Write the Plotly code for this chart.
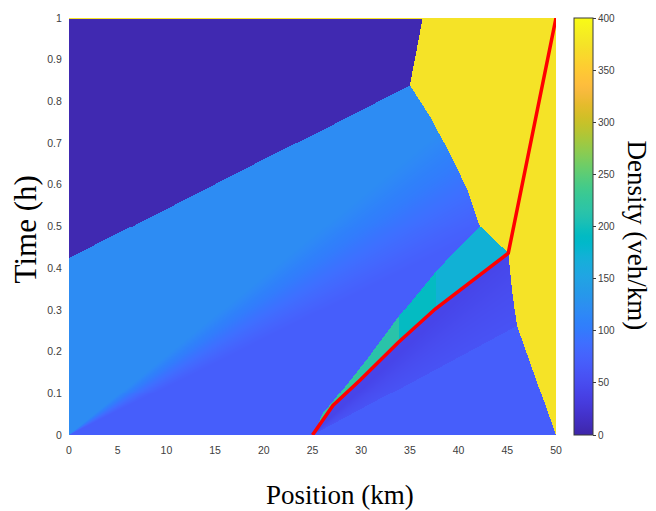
import numpy as np
import plotly.graph_objects as go

# ---------------- data ----------------
x_ticks = [0, 5, 10, 15, 20, 25, 30, 35, 40, 45, 50]
y_ticks = [0, 0.1, 0.2, 0.3, 0.4, 0.5, 0.6, 0.7, 0.8, 0.9, 1.0]
y_ticktext = ["0", "0.1", "0.2", "0.3", "0.4", "0.5", "0.6", "0.7", "0.8", "0.9", "1"]
cbar_ticks = [0, 50, 100, 150, 200, 250, 300, 350, 400]

# vehicle trajectory (red line)
traj_x = [25.0, 27.1, 29.9, 33.8, 37.6, 45.1, 50.0]
traj_t = [0.0, 0.071, 0.132, 0.222, 0.302, 0.436, 1.0]

# region densities (veh/km)
rho_A = 5        # free-flow upstream, top-left
rho_B = 120      # upper part of fan from origin
rho_C = 70       # lower part / initial condition
rho_D = 375      # jam
rho_F_low = 58   # fan below trajectory, lower edge
rho_F_high = 42  # fan below trajectory, near trajectory
rho_E = [224, 214, 192, 172]      # teal band segments
E_split_x = [29.9, 33.9, 37.7]    # segment boundaries (km)

# fan slopes (h/km) from origin: t/x where C turns into B
fanBC_s = [0.0115, 0.019]
# fan slopes from (25,0): t/(x-25)
fanF_s = [0.0124, 0.022]

# region boundaries (km, h)
A_x = [0.0, 35.0, 36.3, 0.0]
A_t = [0.424, 0.838, 1.0, 1.0]
D_x = [36.3, 50.0, 50.0, 46.0, 45.5, 45.1, 42.2, 40.9, 39.1, 37.1, 35.0]
D_t = [1.0, 1.0, 0.0, 0.261, 0.344, 0.436, 0.500, 0.588, 0.675, 0.763, 0.838]
E_x = [25.4, 26.0, 27.1, 30.6, 34.0, 37.9, 42.2, 45.1, 37.6, 33.8, 29.9, 27.1]
E_t = [0.014, 0.050, 0.080, 0.182, 0.288, 0.398, 0.500, 0.436, 0.302, 0.222, 0.132, 0.071]
F_x = [25.0, 27.1, 29.9, 33.8, 37.6, 45.1, 45.5, 46.0]
F_t = [0.0, 0.071, 0.132, 0.222, 0.302, 0.436, 0.344, 0.261]

# ---------------- colour map (parula) ----------------
parula = [
    (0.2422, 0.1504, 0.6603), (0.2504, 0.1650, 0.7076), (0.2578, 0.1818, 0.7511),
    (0.2647, 0.1978, 0.7952), (0.2706, 0.2147, 0.8364), (0.2751, 0.2342, 0.8710),
    (0.2783, 0.2559, 0.8991), (0.2803, 0.2782, 0.9221), (0.2813, 0.3006, 0.9414),
    (0.2810, 0.3228, 0.9579), (0.2795, 0.3447, 0.9717), (0.2760, 0.3667, 0.9829),
    (0.2699, 0.3892, 0.9906), (0.2602, 0.4123, 0.9952), (0.2440, 0.4358, 0.9988),
    (0.2206, 0.4603, 0.9973), (0.1963, 0.4847, 0.9892), (0.1834, 0.5074, 0.9798),
    (0.1786, 0.5289, 0.9682), (0.1764, 0.5499, 0.9520), (0.1687, 0.5703, 0.9359),
    (0.1540, 0.5902, 0.9218), (0.1460, 0.6091, 0.9079), (0.1380, 0.6276, 0.8973),
    (0.1248, 0.6459, 0.8883), (0.1113, 0.6630, 0.8763), (0.0952, 0.6798, 0.8598),
    (0.0689, 0.6948, 0.8394), (0.0297, 0.7082, 0.8163), (0.0036, 0.7203, 0.7917),
    (0.0067, 0.7312, 0.7660), (0.0433, 0.7411, 0.7394), (0.0964, 0.7500, 0.7120),
    (0.1408, 0.7584, 0.6842), (0.1717, 0.7670, 0.6554), (0.1938, 0.7758, 0.6251),
    (0.2161, 0.7843, 0.5923), (0.2470, 0.7918, 0.5567), (0.2906, 0.7973, 0.5188),
    (0.3406, 0.8008, 0.4789), (0.3909, 0.8029, 0.4354), (0.4456, 0.8024, 0.3909),
    (0.5044, 0.7993, 0.3480), (0.5616, 0.7942, 0.3045), (0.6174, 0.7876, 0.2612),
    (0.6720, 0.7793, 0.2227), (0.7242, 0.7698, 0.1910), (0.7738, 0.7598, 0.1646),
    (0.8203, 0.7498, 0.1535), (0.8634, 0.7406, 0.1596), (0.9035, 0.7330, 0.1774),
    (0.9393, 0.7288, 0.2100), (0.9728, 0.7298, 0.2394), (0.9956, 0.7434, 0.2371),
    (0.9970, 0.7659, 0.2199), (0.9952, 0.7893, 0.2028), (0.9892, 0.8136, 0.1885),
    (0.9786, 0.8386, 0.1766), (0.9676, 0.8639, 0.1643), (0.9610, 0.8890, 0.1537),
    (0.9597, 0.9135, 0.1423), (0.9628, 0.9373, 0.1265), (0.9691, 0.9606, 0.1064),
    (0.9769, 0.9839, 0.0805)]
n_c = len(parula)
colorscale = [[i / (n_c - 1), "rgb(%d,%d,%d)" % tuple(int(round(c * 255)) for c in col)]
              for i, col in enumerate(parula)]

# ---------------- rasterise the density field ----------------
nx, ny = 487, 422
xc = (np.arange(nx) + 0.5) * 50.0 / nx
tc = (np.arange(ny) + 0.5) * 1.0 / ny
X, T = np.meshgrid(xc, tc)


def inpoly(X, Y, px, py):
    px = np.asarray(px, float)
    py = np.asarray(py, float)
    inside = np.zeros(X.shape, bool)
    n = len(px)
    j = n - 1
    for i in range(n):
        xi, yi, xj, yj = px[i], py[i], px[j], py[j]
        cross = ((yi > Y) != (yj > Y)) & (X < (xj - xi) * (Y - yi) / (yj - yi + 1e-12) + xi)
        inside ^= cross
        j = i
    return inside


s0 = T / np.maximum(X, 1e-9)
Z = np.interp(s0, fanBC_s, [rho_C, rho_B])

Z[inpoly(X, T, A_x, A_t)] = rho_A
Z[inpoly(X, T, D_x, D_t)] = rho_D

mF = inpoly(X, T, F_x, F_t)
sF = T / np.maximum(X - 25.0, 1e-9)
Z[mF] = np.interp(sF[mF], fanF_s, [rho_F_low, rho_F_high])

mE = inpoly(X, T, E_x, E_t)
seg = np.searchsorted(E_split_x, X)
Z[mE] = np.array(rho_E)[seg[mE]]

Z[-1, :] = rho_D  # thin yellow row at t = 1

# ---------------- figure ----------------
fig = go.Figure()
fig.add_trace(go.Heatmap(
    x=xc, y=tc, z=Z, zmin=0, zmax=400, colorscale=colorscale, zsmooth=False,
    hoverinfo="skip",
    colorbar=dict(
        x=1.037, xanchor="left", y=0.5, yanchor="middle", len=1, lenmode="fraction",
        thickness=19, thicknessmode="pixels", xpad=0, ypad=0,
        outlinewidth=1, outlinecolor="#3a3a3a",
        tickvals=cbar_ticks, ticks="outside", ticklen=3, tickcolor="#3a3a3a",
        tickfont=dict(family="Liberation Sans, Arial, sans-serif", size=10, color="#404040"),
    ),
))
fig.add_trace(go.Scatter(
    x=traj_x, y=traj_t, mode="lines",
    line=dict(color="rgb(255,0,0)", width=3.5),
    hoverinfo="skip", showlegend=False,
))

tickfont = dict(family="Liberation Sans, Arial, sans-serif", size=10.5, color="#404040")
fig.update_layout(
    width=656, height=511,
    margin=dict(l=69, r=100, t=13, b=76),
    paper_bgcolor="white", plot_bgcolor="white",
    showlegend=False,
    xaxis=dict(range=[0, 50], tickvals=x_ticks, showgrid=False, zeroline=False,
               showline=False, ticks="outside", ticklen=5, tickcolor="rgba(0,0,0,0)",
               tickfont=tickfont),
    yaxis=dict(range=[0, 1], tickvals=y_ticks, ticktext=y_ticktext, showgrid=False,
               zeroline=False, showline=False, ticks="outside", ticklen=4,
               tickcolor="rgba(0,0,0,0)", tickfont=tickfont),
    annotations=[
        dict(text="Position (km)", xref="paper", yref="paper", x=0.5565, y=-0.1445,
             xanchor="center", yanchor="middle", showarrow=False,
             font=dict(family="Liberation Serif, Times New Roman, serif", size=27, color="black")),
        dict(text="Time (h)", xref="paper", yref="paper", x=-0.0903, y=0.493,
             xanchor="center", yanchor="middle", showarrow=False, textangle=-90,
             font=dict(family="Liberation Serif, Times New Roman, serif", size=31, color="black")),
        dict(text="Density (veh/km)", xref="paper", yref="paper", x=1.166, y=0.479,
             xanchor="center", yanchor="middle", showarrow=False, textangle=90,
             font=dict(family="Liberation Serif, Times New Roman, serif", size=27, color="black")),
    ],
)

fig.write_html(
    "out.html",
    config={"displayModeBar": False},
    post_script="document.body.style.margin='0';document.body.style.padding='0';"
                "document.body.style.overflow='hidden';",
)
